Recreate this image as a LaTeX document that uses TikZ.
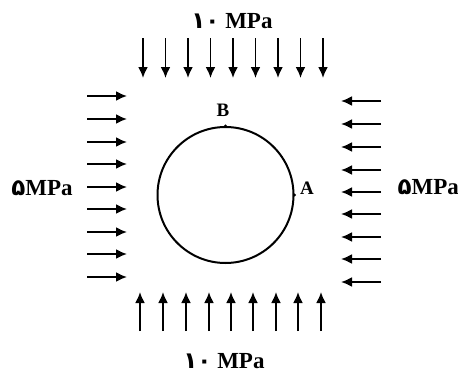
\documentclass[tikz,border=0pt]{standalone}
\usepackage{fontspec}
\setmainfont{Liberation Serif}
\newfontfamily\pdig{DejaVu Sans}
\usetikzlibrary{arrows.meta}
\tikzset{
  load/.style={line width=1.9pt,-{Latex[length=11pt,width=10pt]}},
  lbl/.style={font=\fontsize{23}{26}\selectfont\bfseries,inner sep=0pt},
  ptlbl/.style={font=\fontsize{19}{22}\selectfont\bfseries,inner sep=0pt},
  hole/.style={draw,line width=2pt}
}
\begin{document}
\begin{tikzpicture}[x=1pt,y=-1pt]
\useasboundingbox (0,0) rectangle (458,375);
% hole
\node[hole,circle,minimum size=136pt,inner sep=0pt] (hole) at (225.5,195) {};
\fill (hole.north) circle (1.7pt);
\fill (hole.east) circle (1.7pt);
\node[ptlbl] (B) at (223,110) {B};
\node[ptlbl] (A) at (307,188) {A};
% top loads
\foreach \i [count=\k] in {143,165.5,188,210.5,233,255.5,278,300.5,323}{
  \coordinate (t\k s) at (\i,38);
  \coordinate (t\k e) at (\i,78);
  \draw[load] (t\k s) -- (t\k e);
}
% bottom loads
\foreach \i [count=\k] in {140,163,186,209,231,253,276,298,321}{
  \coordinate (b\k s) at (\i,331);
  \coordinate (b\k e) at (\i,292);
  \draw[load] (b\k s) -- (b\k e);
}
% left loads
\foreach \j [count=\k] in {96,119,142,164,187,209,232,254,277}{
  \coordinate (l\k s) at (87,\j);
  \coordinate (l\k e) at (127,\j);
  \draw[load] (l\k s) -- (l\k e);
}
% right loads
\foreach \j [count=\k] in {101,124,147,170,192,214,237,259,282}{
  \coordinate (r\k s) at (381,\j);
  \coordinate (r\k e) at (341,\j);
  \draw[load] (r\k s) -- (r\k e);
}
% labels
\node[lbl] (top) at (232,21) {{\pdig ۱۰} MPa};
\node[lbl] (bot) at (224,361) {{\pdig ۱۰} MPa};
\node[lbl] (left) at (42,188) {{\pdig ۵}MPa};
\node[lbl,anchor=east] (right) at (459,187) {{\pdig ۵}MPa};
\end{tikzpicture}
\end{document}
